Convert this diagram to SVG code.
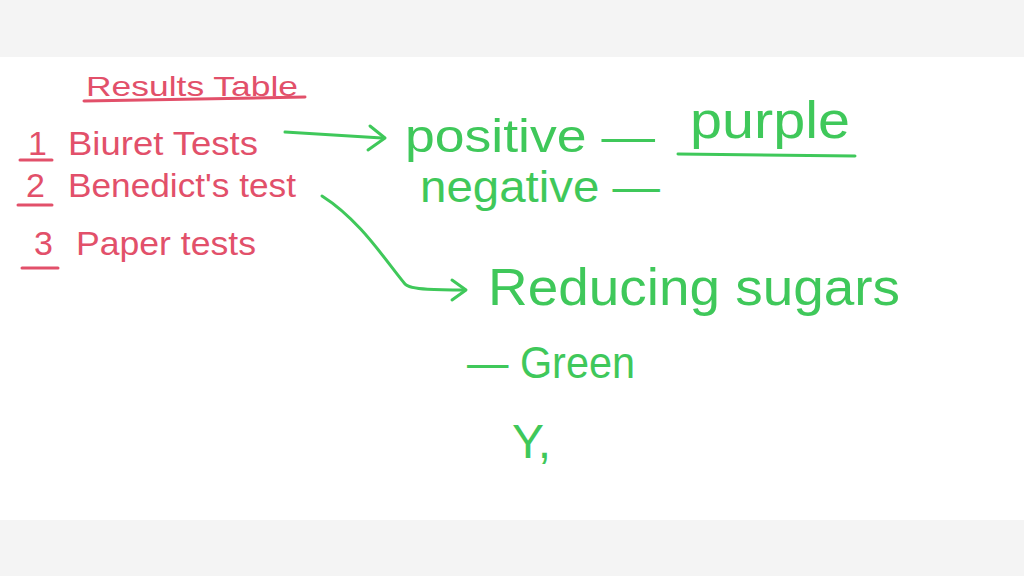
<svg xmlns="http://www.w3.org/2000/svg" width="1024" height="576" viewBox="0 0 1024 576">
<style>
.r{fill:#e2506a;font-family:"Liberation Sans",sans-serif}
.g{fill:#3fc85a;font-family:"Liberation Sans",sans-serif}
.rl{stroke:#e2506a;stroke-width:3;fill:none;stroke-linecap:round}
.gl{stroke:#3fc85a;stroke-width:3;fill:none;stroke-linecap:round;stroke-linejoin:round}
</style>
<rect width="1024" height="576" fill="#f4f4f4"/>
<rect x="0" y="57" width="1024" height="463" fill="#ffffff"/>
<g id="title"><text class="r" x="86" y="96" font-size="28" textLength="212" lengthAdjust="spacingAndGlyphs">Results Table</text><line class="rl" x1="84" y1="101" x2="305" y2="97"/></g>
<g id="item1"><text class="r" x="28" y="155" font-size="34">1</text><line class="rl" x1="20" y1="160" x2="52" y2="160"/><text class="r" x="68" y="155" font-size="34" textLength="190" lengthAdjust="spacingAndGlyphs">Biuret Tests</text></g>
<g id="item2"><text class="r" x="26" y="197" font-size="34">2</text><line class="rl" x1="18" y1="205" x2="52" y2="205"/><text class="r" x="68" y="197" font-size="34" textLength="228" lengthAdjust="spacingAndGlyphs">Benedict's test</text></g>
<g id="item3"><text class="r" x="34" y="255" font-size="34">3</text><line class="rl" x1="22" y1="268" x2="58" y2="268"/><text class="r" x="76" y="255" font-size="34" textLength="180" lengthAdjust="spacingAndGlyphs">Paper tests</text></g>
<g id="positive"><text class="g" x="405" y="152" font-size="46" textLength="250" lengthAdjust="spacingAndGlyphs">positive —</text></g>
<g id="purple"><text class="g" x="690" y="138" font-size="52" textLength="160" lengthAdjust="spacingAndGlyphs">purple</text><line class="gl" x1="678" y1="154" x2="855" y2="156"/></g>
<g id="negative"><text class="g" x="420" y="202" font-size="44" textLength="240" lengthAdjust="spacingAndGlyphs">negative —</text></g>
<g id="reducing"><text class="g" x="488" y="305" font-size="52" textLength="412" lengthAdjust="spacingAndGlyphs">Reducing sugars</text></g>
<g id="green"><text class="g" x="467" y="378" font-size="44" textLength="168" lengthAdjust="spacingAndGlyphs">— Green</text></g>
<g id="y"><text class="g" x="512" y="458" font-size="48">Y,</text></g>
<g id="connectors">
<path class="gl" d="M285 132 L382 138"/><path class="gl" d="M370 126 L385 138 L368 150"/>
<path class="gl" d="M322 196 C360 220 385 260 405 284 C410 290 440 290 465 290"/><path class="gl" d="M452 280 L466 290 L452 300"/>
</g>
</svg>
